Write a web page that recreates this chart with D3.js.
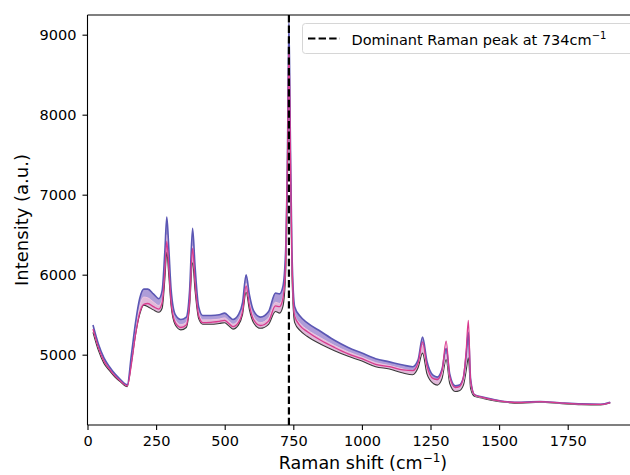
<!DOCTYPE html>
<html>
<head>
<meta charset="utf-8">
<script src="https://cdn.jsdelivr.net/npm/d3@7"></script>
<style>
  body { margin: 0; background: #fff; }
  svg { display: block; font-family: "DejaVu Sans", sans-serif; }
</style>
</head>
<body>
<div class="graph"></div>
<script>
const shift = [20, 40, 60, 80, 100, 120, 145, 160, 175, 190, 205, 220, 240, 260, 272, 282, 289, 296, 305, 320,
  340, 360, 372, 383, 392, 405, 420, 450, 480, 500, 515, 530, 550, 565, 578, 590, 605, 630, 660, 685,
  700, 712, 722, 729, 734, 739, 745, 755, 775, 800, 850, 900, 950, 1000, 1050, 1100, 1150, 1185, 1205, 1221,
  1237, 1260, 1275, 1292, 1307, 1320, 1340, 1355, 1370, 1380, 1388, 1396, 1410, 1440, 1480, 1520, 1580, 1650, 1720, 1800,
  1870, 1905];

// lowest spectrum (dark)
const specLow = [5280, 5050, 4890, 4800, 4720, 4660, 4600, 4900, 5250, 5500, 5620, 5600, 5560, 5530, 5580, 5950, 6280, 6000, 5600, 5370,
  5310, 5340, 5600, 6150, 5800, 5450, 5380, 5380, 5390, 5400, 5360, 5320, 5370, 5500, 5780, 5560, 5400, 5330, 5380, 5540,
  5520, 5600, 6000, 7200, 8650, 7400, 6000, 5400, 5300, 5230, 5130, 5050, 4980, 4920, 4850, 4820, 4770, 4750, 4840, 5020,
  4760, 4640, 4620, 4700, 4940, 4640, 4540, 4550, 4620, 4800, 4960, 4580, 4480, 4455, 4425, 4405, 4395, 4405, 4390, 4375,
  4372, 4395];

// middle of the bundle (pale pink)
const specMid = [5325, 5090, 4925, 4825, 4740, 4675, 4612, 4950, 5320, 5600, 5720, 5710, 5660, 5615, 5690, 6120, 6500, 6170, 5700, 5435,
  5375, 5405, 5700, 6360, 5950, 5525, 5435, 5435, 5445, 5460, 5420, 5380, 5435, 5575, 5890, 5655, 5475, 5400, 5460, 5655,
  5640, 5725, 6150, 7400, 8900, 7600, 6150, 5500, 5390, 5315, 5210, 5115, 5035, 4970, 4900, 4865, 4820, 4800, 4890, 5120,
  4840, 4690, 4670, 4760, 5010, 4700, 4575, 4585, 4670, 4900, 5120, 4640, 4490, 4462, 4432, 4410, 4400, 4410, 4395, 4380,
  4376, 4400];

// highest spectrum (blue violet)
const specHigh = [5370, 5130, 4960, 4850, 4760, 4690, 4625, 5000, 5400, 5700, 5820, 5820, 5760, 5700, 5800, 6300, 6720, 6350, 5800, 5500,
  5440, 5470, 5800, 6580, 6100, 5600, 5490, 5490, 5500, 5520, 5480, 5440, 5500, 5650, 6000, 5750, 5550, 5470, 5540, 5770,
  5760, 5850, 6300, 7600, 9150, 7800, 6300, 5600, 5480, 5400, 5290, 5180, 5090, 5020, 4950, 4910, 4870, 4850, 4940, 5220,
  4920, 4740, 4720, 4820, 5080, 4760, 4610, 4620, 4720, 5000, 5280, 4700, 4500, 4470, 4440, 4415, 4405, 4415, 4400, 4385,
  4380, 4405];

// last spectrum, drawn on top (magenta)
const specLast = [5320, 5085, 4920, 4820, 4735, 4670, 4610, 4880, 5250, 5520, 5630, 5640, 5600, 5570, 5650, 6050, 6420, 6100, 5650, 5400,
  5340, 5370, 5660, 6330, 5900, 5490, 5400, 5405, 5415, 5430, 5390, 5350, 5400, 5540, 5860, 5620, 5440, 5365, 5420, 5610,
  5600, 5700, 6150, 7500, 8850, 7650, 6200, 5480, 5360, 5290, 5180, 5090, 5010, 4950, 4880, 4850, 4810, 4800, 4900, 5160,
  4860, 4700, 4690, 4800, 5170, 4730, 4590, 4600, 4720, 5050, 5430, 4680, 4500, 4465, 4435, 4412, 4402, 4412, 4398, 4382,
  4378, 4402];

const xTicks = [0, 250, 500, 750, 1000, 1250, 1500, 1750];
const yTicks = [5000, 6000, 7000, 8000, 9000];
const peakShift = 734;

const W = 630, H = 475;
const margin = { top: 15, right: -20, bottom: 50, left: 87.5 };
const width = W - margin.left - margin.right,
  height = H - margin.top - margin.bottom;

const svg = d3.select(".graph").append("svg")
  .attr("width", W)
  .attr("height", H);

const g = svg.append("g")
  .attr("transform", "translate(" + margin.left + "," + margin.top + ")");

const x = d3.scaleLinear().domain([0, 1977]).range([0, W - margin.left]);
const y = d3.scaleLinear().domain([4121, 9246]).range([height, 0]);

g.append("clipPath").attr("id", "clip")
  .append("rect").attr("width", width).attr("height", height);

const plot = g.append("g").attr("clip-path", "url(#clip)");

const rows = shift.map((s, i) => ({ s: s, lo: specLow[i], mid: specMid[i], hi: specHigh[i], last: specLast[i] }));

// the bundle of spectra: lower half pinkish, upper half violet
const bands = [
  { from: "lo", to: "mid", fill: "#d6a2cc", op: 0.75 },
  { from: "mid", to: "hi", fill: "#8c74c8", op: 0.7 }
];
bands.forEach(b => {
  plot.append("path")
    .datum(rows)
    .attr("fill", b.fill)
    .attr("fill-opacity", b.op)
    .attr("d", d3.area()
      .curve(d3.curveMonotoneX)
      .x(d => x(d.s))
      .y0(d => y(d[b.from]))
      .y1(d => y(d[b.to])));
});

const lines = [
  { key: "lo", color: "#3a3a3a", w: 1.1 },
  { key: "mid", color: "#f0c4e0", w: 1.0 },
  { key: "hi", color: "#5b57b4", w: 1.6 },
  { key: "last", color: "#d93a8e", w: 1.3 }
];

lines.forEach(l => {
  plot.append("path")
    .datum(rows)
    .attr("fill", "none")
    .attr("stroke", l.color)
    .attr("stroke-width", l.w)
    .attr("stroke-linejoin", "round")
    .attr("d", d3.line()
      .curve(d3.curveMonotoneX)
      .x(d => x(d.s))
      .y(d => y(d[l.key])));
});

// dominant peak marker
plot.append("line")
  .attr("x1", x(peakShift)).attr("x2", x(peakShift))
  .attr("y1", 0).attr("y2", height)
  .attr("stroke", "#000")
  .attr("stroke-width", 2.2)
  .attr("stroke-dasharray", "7.4,3.2");

// axes
const xAxis = g.append("g")
  .attr("transform", "translate(0," + height + ")")
  .call(d3.axisBottom(x).tickValues(xTicks).tickSize(5).tickPadding(6).tickFormat(d3.format("d")));

const yAxis = g.append("g")
  .call(d3.axisLeft(y).tickValues(yTicks).tickSize(5).tickPadding(6).tickFormat(d3.format("d")));

[xAxis, yAxis].forEach(a => {
  a.select(".domain").remove();
  a.selectAll("line").attr("stroke", "#000").attr("stroke-width", 1.1);
  a.selectAll("text").attr("fill", "#000").style("font-size", "14.5px")
    .style("font-family", "DejaVu Sans, sans-serif");
});

// spines (right one falls outside the picture)
g.append("line").attr("x1", 0).attr("x2", width).attr("y1", 0).attr("y2", 0)
  .attr("stroke", "#000").attr("stroke-width", 1.1);
g.append("line").attr("x1", 0).attr("x2", width).attr("y1", height).attr("y2", height)
  .attr("stroke", "#000").attr("stroke-width", 1.1);
g.append("line").attr("x1", 0).attr("x2", 0).attr("y1", 0).attr("y2", height)
  .attr("stroke", "#000").attr("stroke-width", 1.1);

// axis labels
const xl = svg.append("text")
  .attr("x", 363).attr("y", 469)
  .attr("text-anchor", "middle")
  .style("font-size", "17.5px");
xl.append("tspan").text("Raman shift (cm");
xl.append("tspan").attr("dy", -7).style("font-size", "12px").text("\u22121");
xl.append("tspan").attr("dy", 7).text(")");

svg.append("text")
  .attr("transform", "translate(28," + (margin.top + height / 2) + ") rotate(-90)")
  .attr("text-anchor", "middle")
  .style("font-size", "18px")
  .text("Intensity (a.u.)");

// legend
const leg = svg.append("g").attr("transform", "translate(302.5,23.5)");
leg.append("rect")
  .attr("width", 340).attr("height", 30)
  .attr("rx", 3)
  .attr("fill", "#fff").attr("fill-opacity", 0.8)
  .attr("stroke", "#d6d6d6").attr("stroke-width", 1);
leg.append("line")
  .attr("x1", 5.5).attr("x2", 37.5).attr("y1", 15).attr("y2", 15)
  .attr("stroke", "#000").attr("stroke-width", 2.2)
  .attr("stroke-dasharray", "7.4,3.2");
const lt = leg.append("text")
  .attr("x", 49).attr("y", 21)
  .style("font-size", "14.5px");
lt.append("tspan").text("Dominant Raman peak at 734cm");
lt.append("tspan").attr("dy", -6).style("font-size", "10px").text("\u22121");
</script>
</body>
</html>
